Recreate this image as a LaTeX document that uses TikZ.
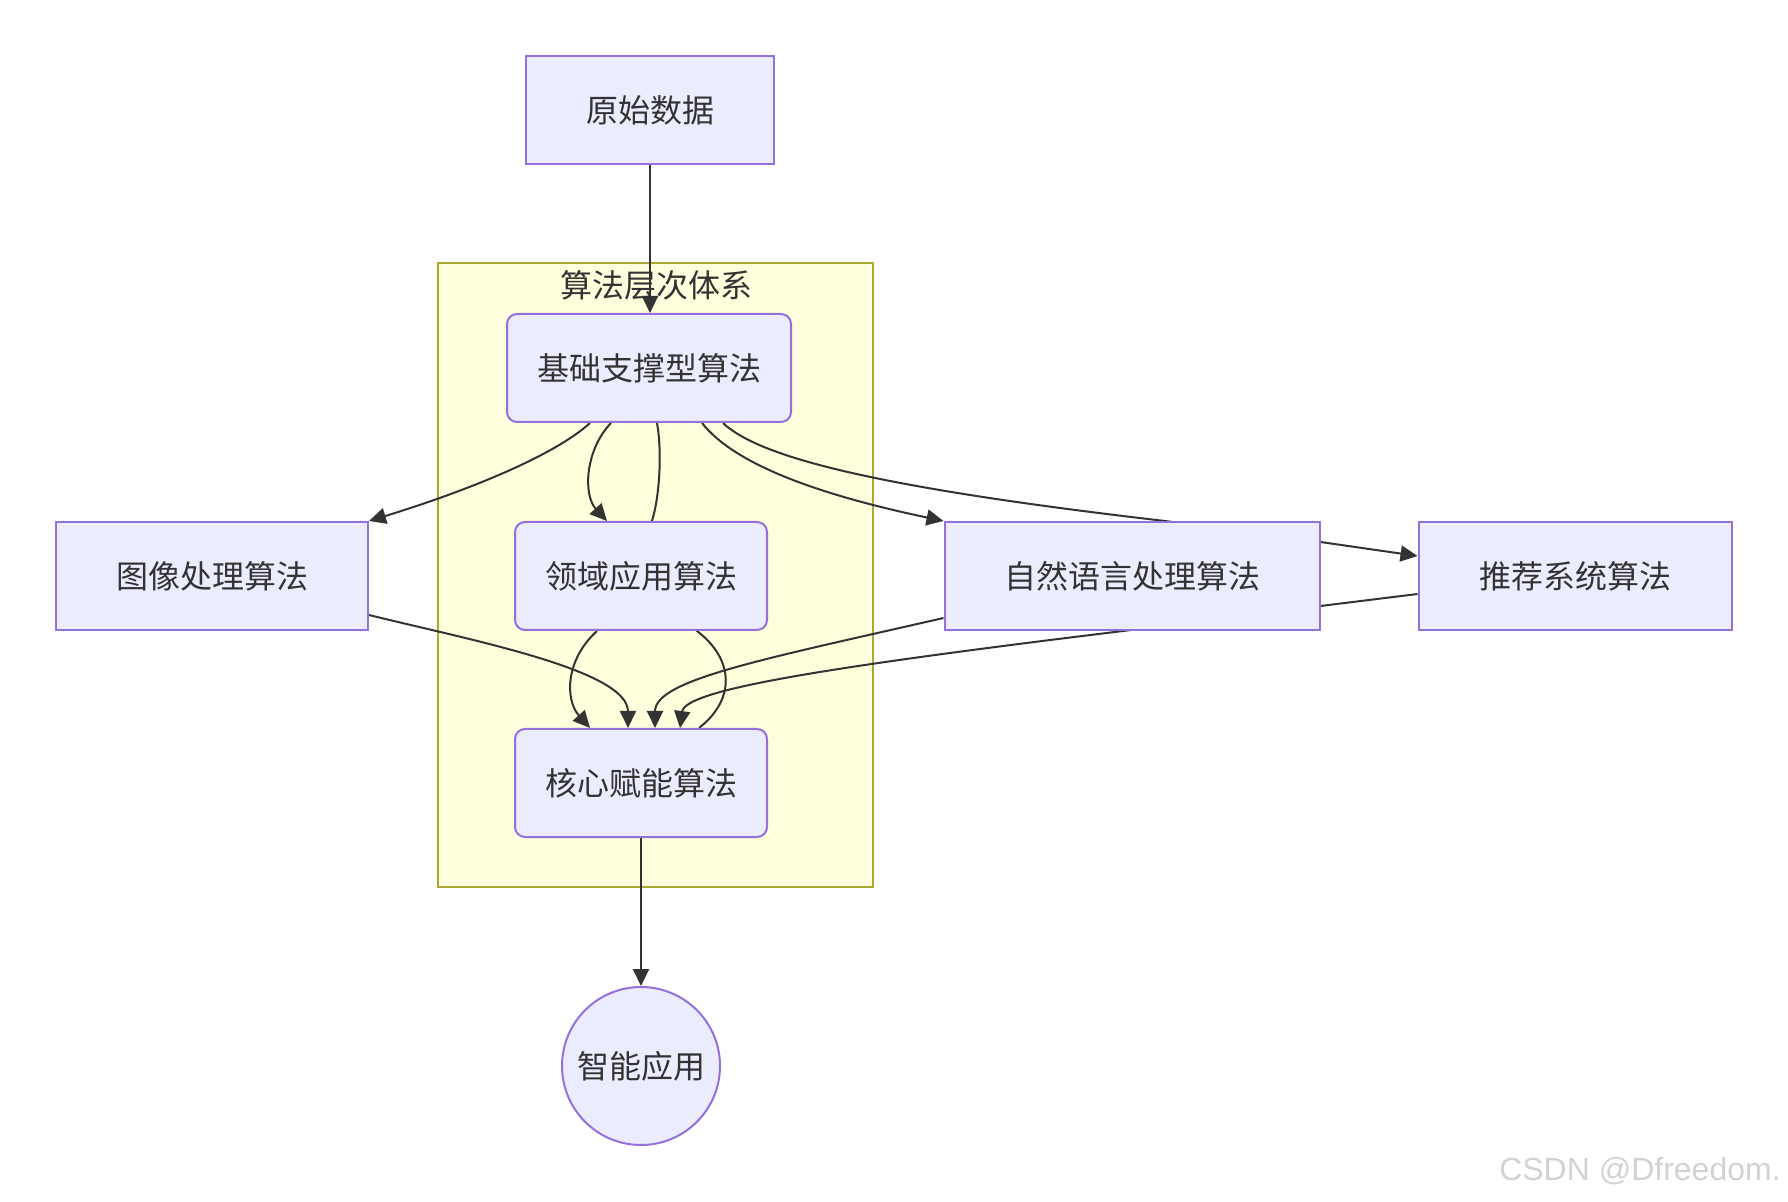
\documentclass[tikz,border=0pt]{standalone}
\usepackage{fontspec}
\setmainfont{Noto Sans CJK SC}
\newfontfamily\markfont{Liberation Sans}
\usetikzlibrary{positioning,arrows.meta,calc}
\definecolor{mmfill}{HTML}{ECECFF}
\definecolor{mmborder}{HTML}{9370DB}
\definecolor{mmline}{HTML}{333333}
\definecolor{mmcluster}{HTML}{FFFFDE}
\definecolor{mmclusterborder}{HTML}{AAAA33}
\definecolor{mmmark}{HTML}{D2D2D2}
\pgfdeclarelayer{clusterlayer}
\pgfdeclarelayer{edgelayer}
\pgfsetlayers{clusterlayer,edgelayer,main}
\tikzset{
  algbox/.style={draw=mmborder, fill=mmfill, line width=1pt, text=mmline,
    minimum height=54pt, inner sep=0pt, font=\fontsize{16}{19}\selectfont},
  subbox/.style={algbox, rounded corners=5pt},
  flow/.style={draw=mmline, line width=1pt, -{Triangle[length=8.5pt,width=8pt]}},
  link/.style={draw=mmline, line width=1pt},
}

\begin{document}
\begin{tikzpicture}[x=0.5pt, y=-0.5pt]
    \useasboundingbox (0,0) rectangle (1788,1202);
    % nodes
    \node[algbox, minimum width=124pt] (raw) at (650,110) {原始数据};
    \node[subbox, minimum width=142pt] (base) at (649,368) {基础支撑型算法};
    \node[subbox, minimum width=126pt] (dom) at (641,576) {领域应用算法};
    \node[subbox, minimum width=126pt] (core) at (641,783) {核心赋能算法};
    \node[algbox, minimum width=156pt] (img) at (212,576) {图像处理算法};
    \node[algbox, minimum width=187.5pt] (nlp) at (1132,576) {自然语言处理算法};
    \node[algbox, minimum width=156.5pt] (rec) at (1575,576) {推荐系统算法};
    \node[algbox, circle, minimum size=79pt] (app) at (641,1066) {智能应用};
    % subgraph
    \begin{pgfonlayer}{clusterlayer}
      \draw[draw=mmclusterborder, fill=mmcluster, line width=1pt] (438,263) rectangle (873,887);
      \node[text=mmline, font=\fontsize{16}{19}\selectfont] (systitle) at (656,285) {算法层次体系};
    \end{pgfonlayer}
    % edges
    \begin{pgfonlayer}{edgelayer}
      \draw[flow] (raw.south) -- (raw.south |- base.north);
      \draw[flow] ($(base.south)+(-59,0)$) .. controls (555,455) and (470,490) .. (img.north east);
      \draw[flow] ($(base.south)+(-38,0)$) .. controls (585,450) and (583,495) .. ($(dom.north)+(-34,0)$);
      \draw[link] ($(base.south)+(8,0)$) .. controls (662,450) and (660,495) .. ($(dom.north)+(11,0)$)
        -- ($(dom.south)+(56,0)$) .. controls (735,660) and (735,700) .. ($(core.north)+(58,0)$);
      \draw[flow] ($(base.south)+(53,0)$) .. controls (735,465) and (820,495) .. (nlp.north west);
      \draw[flow] ($(base.south)+(74,0)$) .. controls (760,458) and (880,488) .. ($(nlp.north)+(33,0)$)
        -- ($(nlp.east)+(0,-34)$) -- ($(rec.west)+(0,-20)$);
      \draw[flow] ($(img.east)+(0,39)$) .. controls (470,640) and (628,670) .. ($(core.north)+(-13,0)$);
      \draw[flow] ($(dom.south)+(-44,0)$) .. controls (565,660) and (565,700) .. ($(core.north)+(-51,0)$);
      \draw[flow] ($(nlp.west)+(0,42)$) .. controls (760,660) and (655,680) .. ($(core.north)+(14,0)$);
      \draw[flow] ($(rec.west)+(0,18)$) -- ($(nlp.east)+(0,30)$) -- ($(nlp.south)+(-9,0)$)
        .. controls (820,668) and (685,690) .. ($(core.north)+(39,0)$);
      \draw[flow] (core) -- (app);
    \end{pgfonlayer}
    % watermark
    \node[text=mmmark, font=\markfont\fontsize{16}{18}\selectfont] (mark) at (1640,1171) {CSDN @Dfreedom.};
\end{tikzpicture}
\end{document}
